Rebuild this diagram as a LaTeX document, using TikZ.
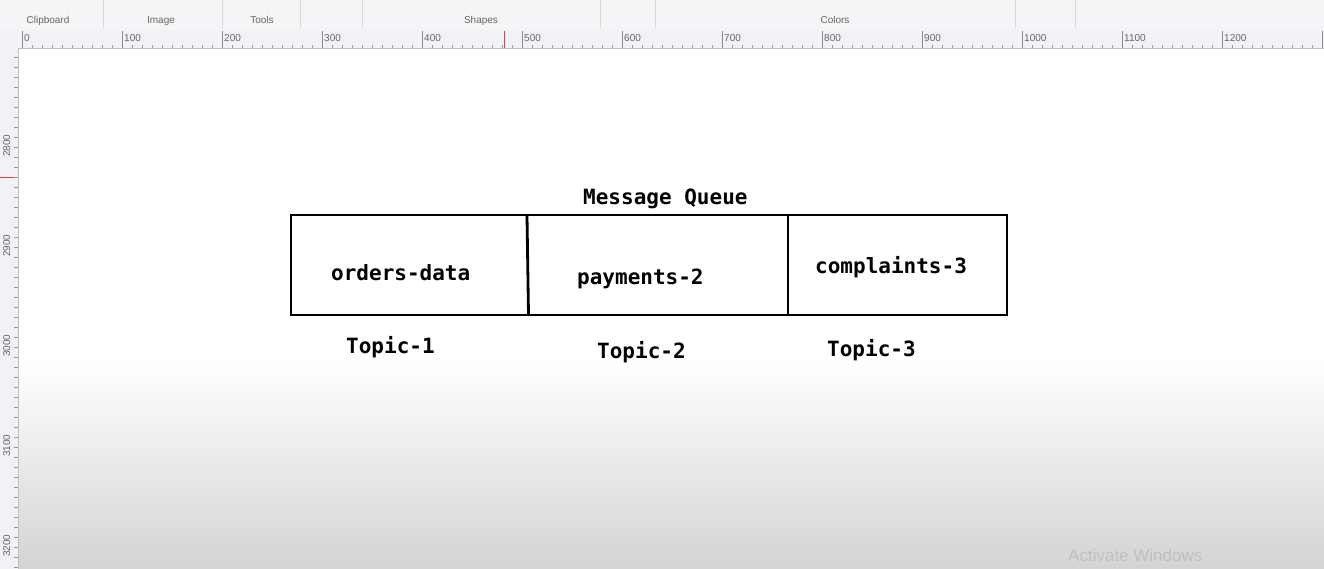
\documentclass[tikz,border=0pt]{standalone}
\usepackage{fontspec}
\setmainfont{Liberation Sans}
\newfontfamily\monob{DejaVu Sans Mono}
\definecolor{ribbon}{HTML}{F4F5F6}
\definecolor{rulerbg}{HTML}{F0F2F5}
\definecolor{uitext}{HTML}{666666}
\begin{document}
\begin{tikzpicture}[x=1pt,y=-1pt,
  boxline/.style={line width=2.8pt, black},
  lbl/.style={anchor=base west, inner sep=0pt, font=\monob\bfseries\fontsize{21}{21}\selectfont},
  grp/.style={anchor=base, inner sep=0pt, font=\fontsize{10}{10}\selectfont, text=uitext},
  rnum/.style={anchor=base west, inner sep=0pt, font=\fontsize{10}{10}\selectfont, text=uitext}]
\useasboundingbox (0,0) rectangle (1324,569);
% canvas
\fill[white] (0,0) rectangle (1324,569);
\shade[top color=white, bottom color=black!17] (18,360) rectangle (1324,569);
% ribbon
\fill[ribbon] (0,0) rectangle (1324,30);
\foreach \x in {103,222,300,362,600,655,1015,1075} \draw[black!15] (\x,0) -- (\x,28);
\node[grp] (g1) at (48,24) {Clipboard};
\node[grp] (g2) at (161,24) {Image};
\node[grp] (g3) at (262,24) {Tools};
\node[grp] (g4) at (481,24) {Shapes};
\node[grp] (g5) at (835,24) {Colors};
% horizontal ruler
\fill[rulerbg] (0,30) rectangle (1324,48);
\draw[black!25] (0,48) -- (1324,48);
\foreach \i in {0,...,130} {
  \pgfmathtruncatemacro{\m}{mod(\i,10)}
  \ifnum\m=0 \draw[black!45] ({22+10*\i},31) -- ({22+10*\i},48);
  \else \draw[black!40] ({22+10*\i},45) -- ({22+10*\i},48); \fi
}
\foreach \n [count=\k from 0] in {0,100,200,300,400,500,600,700,800,900,1000,1100,1200}
  \node[rnum] (r\k) at ({24+100*\k},42) {\n};
\draw[red!80] (504,31) -- (504,48);
% vertical ruler
\fill[rulerbg] (0,48) rectangle (18,569);
\draw[black!25] (18,48) -- (18,569);
\foreach \j in {0,...,52} \draw[black!40] (14,{57+10*\j}) -- (18,{57+10*\j});
\foreach \n [count=\k from 0] in {2800,2900,3000,3100,3200}
  \node[rnum, rotate=90] (v\k) at (10,{157+100*\k}) {\n};
\draw[red!80] (0,177) -- (14,177);
% diagram
\draw[boxline] (291,215) rectangle (1007,315);
\coordinate (d1t) at (527,216); \coordinate (d1b) at (528.5,315);
\coordinate (d2t) at (788,216); \coordinate (d2b) at (788,315);
\draw[boxline] (d1t) -- (d1b);
\draw[boxline] (d2t) -- (d2b);
\node[lbl] (title) at (583,205) {Message Queue};
\node[lbl] (c1) at (331,280) {orders-data};
\node[lbl] (c2) at (577,284) {payments-2};
\node[lbl] (c3) at (815,273) {complaints-3};
\node[lbl] (t1) at (346,353) {Topic-1};
\node[lbl] (t2) at (597,358) {Topic-2};
\node[lbl] (t3) at (827,356) {Topic-3};
\node[anchor=base west, inner sep=0pt, font=\fontsize{17}{17}\selectfont, text=black!25] (aw) at (1068,561) {Activate Windows};
\end{tikzpicture}
\end{document}
